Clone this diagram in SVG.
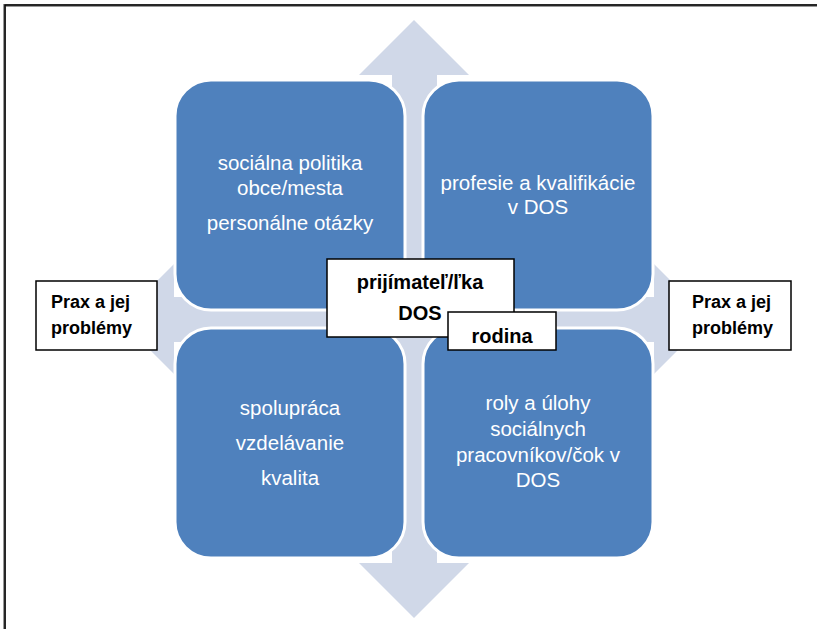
<svg xmlns="http://www.w3.org/2000/svg" width="817" height="629" viewBox="0 0 817 629">
<style>
.box{fill:#4F81BD;stroke:#FFFFFF;stroke-width:3}
.arrow{fill:#D0D8E8}
.bt{font-family:"Liberation Sans",Arial,sans-serif;font-size:20.5px;fill:#FFFFFF;text-anchor:middle}
.lbl{fill:#FFFFFF;stroke:#000000;stroke-width:1.5}
.lt{font-family:"Liberation Sans",Arial,sans-serif;font-size:18px;font-weight:bold;fill:#000000}
.ct{font-family:"Liberation Sans",Arial,sans-serif;font-size:20px;font-weight:bold;fill:#000000;text-anchor:middle}
</style>
<rect x="0" y="0" width="817" height="629" fill="#FFFFFF"/>
<g id="frame">
<path d="M4.5 629 V5.5 H817" fill="none" stroke="#999999" stroke-width="3"/>
<path d="M5 629 V5 H817" fill="none" stroke="#000000" stroke-width="1.5"/>
</g>
<g id="connectors">
<polygon class="arrow" points="414,20 469,75 437,75 437,297 654,297 654,264 709,319 654,374 654,342 437,342 437,563 469,563 414,618 359,563 392,563 392,342 174,342 174,374 119,319 174,264 174,297 392,297 392,75 359,75"/>
</g>
<g id="box-tl">
<rect class="box" x="175" y="80" width="230" height="230" rx="36"/>
<text class="bt" x="290" y="170">sociálna politika</text>
<text class="bt" x="290" y="195">obce/mesta</text>
<text class="bt" x="290" y="230">personálne otázky</text>
</g>
<g id="box-tr">
<rect class="box" x="423" y="80" width="230" height="230" rx="36"/>
<text class="bt" x="538" y="190">profesie a kvalifikácie</text>
<text class="bt" x="538" y="214">v DOS</text>
</g>
<g id="box-bl">
<rect class="box" x="175" y="328" width="230" height="230" rx="36"/>
<text class="bt" x="290" y="415">spolupráca</text>
<text class="bt" x="290" y="450">vzdelávanie</text>
<text class="bt" x="290" y="485">kvalita</text>
</g>
<g id="box-br">
<rect class="box" x="423" y="328" width="230" height="230" rx="36"/>
<text class="bt" x="538" y="410">roly a úlohy</text>
<text class="bt" x="538" y="436">sociálnych</text>
<text class="bt" x="538" y="462">pracovníkov/čok v</text>
<text class="bt" x="538" y="487">DOS</text>
</g>
<g id="prax-left">
<rect class="lbl" x="36" y="281" width="121" height="69"/>
<text class="lt" x="51" y="308">Prax a jej</text>
<text class="lt" x="51" y="334">problémy</text>
</g>
<g id="prax-right">
<rect class="lbl" x="669" y="281" width="122" height="69"/>
<text class="lt" x="692" y="308">Prax a jej</text>
<text class="lt" x="692" y="334">problémy</text>
</g>
<g id="prijimatel">
<rect class="lbl" x="327" y="259" width="187" height="78"/>
<text class="ct" x="420" y="289">prijímateľ/ľka</text>
<text class="ct" x="420" y="320">DOS</text>
</g>
<g id="rodina">
<rect class="lbl" x="448" y="312" width="108" height="38" stroke-width="2.5"/>
<text class="ct" x="502" y="343">rodina</text>
</g>
</svg>
